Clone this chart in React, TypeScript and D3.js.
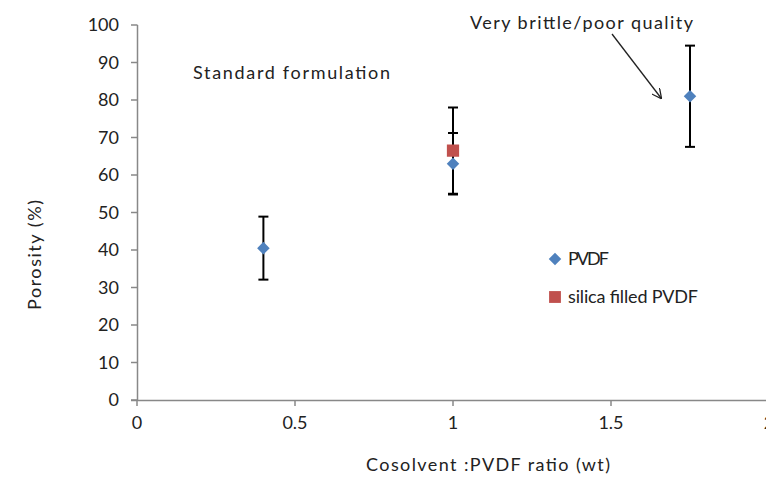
import React from "react";
import * as d3 from "d3";

const pvdfX = [0.4, 1.0, 1.75];
const pvdfY = [40.5, 63, 81];
const pvdfErr = [8.4, 8.2, 13.5];
const silicaX = [1.0];
const silicaY = [66.5];
const silicaErr = [11.5];
const xTicks = [0, 0.5, 1, 1.5, 2];
const yTicks = [0, 10, 20, 30, 40, 50, 60, 70, 80, 90, 100];

const W = 766, H = 486;
const FONT = "Lato, 'Open Sans', sans-serif";

export default function App() {
  const x = d3.scaleLinear().domain([0, 2]).range([137, 769]);
  const y = d3.scaleLinear().domain([0, 100]).range([400, 25]);
  const axisColor = "#888";
  const diamond = d3.symbol().type(d3.symbolDiamond2).size(100)();
  const square = d3.symbol().type(d3.symbolSquare).size(150)();
  const errBar = (cx: number, cy: number, e: number, k: string) => (
    <g key={k} stroke="#000" strokeWidth={2}>
      <line x1={x(cx)} x2={x(cx)} y1={y(cy + e)} y2={y(cy - e)} />
      <line x1={x(cx) - 5} x2={x(cx) + 5} y1={y(cy + e)} y2={y(cy + e)} />
      <line x1={x(cx) - 5} x2={x(cx) + 5} y1={y(cy - e)} y2={y(cy - e)} />
    </g>
  );
  return (
    <svg width={W} height={H} style={{ position: "absolute", left: 0, top: 0, background: "#fff" }} fontFamily={FONT}>
      <defs>
        <marker id="arr" viewBox="0 0 10 10" refX="9" refY="5" markerWidth="10" markerHeight="10" orient="auto" markerUnits="userSpaceOnUse">
          <path d="M0,0 L10,5 L0,10" fill="none" stroke="#222" strokeWidth={1.3} />
        </marker>
      </defs>
      {/* y axis */}
      <line x1={137.5} x2={137.5} y1={y(100)} y2={y(0)} stroke={axisColor} strokeWidth={1.5} />
      {yTicks.map((t) => (
        <g key={"y" + t}>
          <line x1={131} x2={137.5} y1={y(t)} y2={y(t)} stroke={axisColor} strokeWidth={1.5} />
          <text x={119} y={y(t)} dy="0.36em" textAnchor="end" fontSize={18} fill="#222">{t}</text>
        </g>
      ))}
      {/* x axis */}
      <line x1={131} x2={W} y1={400.5} y2={400.5} stroke={axisColor} strokeWidth={1.5} />
      {xTicks.map((t) => (
        <g key={"x" + t}>
          <line x1={x(t)} x2={x(t)} y1={400.5} y2={406} stroke={axisColor} strokeWidth={1.5} />
          <text x={x(t)} y={429} textAnchor="middle" fontSize={18} fill="#222">{t}</text>
        </g>
      ))}
      <text transform="translate(41,255) rotate(-90)" textAnchor="middle" fontSize={18} fill="#222" textLength={110} lengthAdjust="spacing">Porosity (%)</text>
      <text x={488} y={471} textAnchor="middle" fontSize={18} fill="#222" textLength={244} lengthAdjust="spacing">Cosolvent :PVDF ratio (wt)</text>
      {/* error bars */}
      {pvdfX.map((v, i) => errBar(v, pvdfY[i], pvdfErr[i], "pe" + i))}
      {silicaX.map((v, i) => errBar(v, silicaY[i], silicaErr[i], "se" + i))}
      {/* markers */}
      {silicaX.map((v, i) => (
        <path key={"s" + i} d={square} transform={`translate(${x(v)},${y(silicaY[i])})`} fill="#C0504D" />
      ))}
      {pvdfX.map((v, i) => (
        <path key={"p" + i} d={diamond} transform={`translate(${x(v)},${y(pvdfY[i])})`} fill="#4F81BD" />
      ))}
      {/* annotations */}
      <text x={193} y={79} fontSize={18} fill="#222" textLength={197} lengthAdjust="spacing">Standard formulation</text>
      <text x={470} y={29} fontSize={18} fill="#222" textLength={223} lengthAdjust="spacing">Very brittle/poor quality</text>
      <line x1={612} y1={34} x2={661} y2={98} stroke="#222" strokeWidth={1.3} markerEnd="url(#arr)" />
      {/* legend */}
      <path d={diamond} transform="translate(555,259)" fill="#4F81BD" />
      <text x={568} y={259} dy="0.36em" fontSize={18} fill="#222" textLength={41} lengthAdjust="spacing">PVDF</text>
      <path d={d3.symbol().type(d3.symbolSquare).size(140)()} transform="translate(555,297)" fill="#C0504D" />
      <text x={568} y={297} dy="0.36em" fontSize={18} fill="#222" textLength={130} lengthAdjust="spacing">silica filled PVDF</text>
    </svg>
  );
}
